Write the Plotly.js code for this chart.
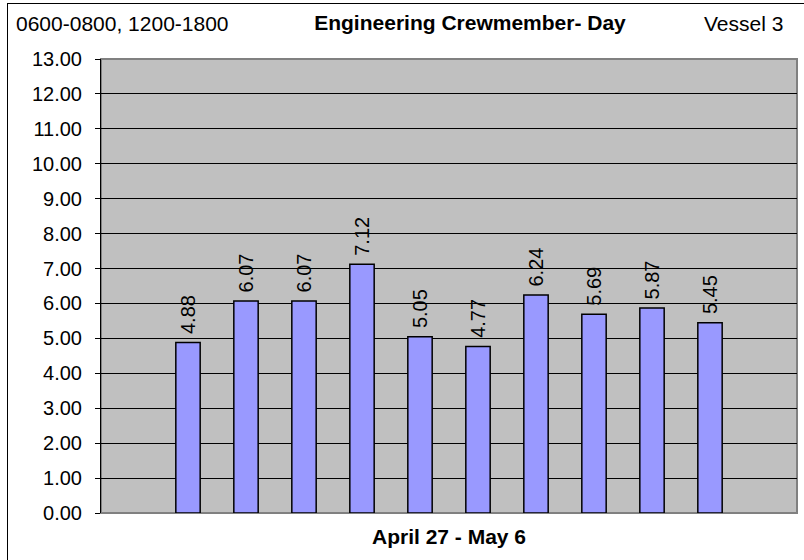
<!DOCTYPE html>
<html>
<head>
<meta charset="utf-8">
<script src="https://cdn.plot.ly/plotly-3.0.1.min.js"></script>
<style>
html,body{margin:0;padding:0;background:#fff;overflow:hidden;}
#wrap{position:relative;width:804px;height:560px;overflow:hidden;}
#frame{position:absolute;left:7px;top:3px;width:820px;height:580px;border:1px solid #000;box-sizing:border-box;pointer-events:none;z-index:5;}
#chart{position:absolute;left:0;top:0;width:804px;height:560px;}
</style>
</head>
<body>
<div id="wrap"><div id="chart"></div><div id="frame"></div></div>
<script>
var days = ["Apr 27","Apr 28","Apr 29","Apr 30","May 1","May 2","May 3","May 4","May 5","May 6"];
var hours = [4.88, 6.07, 6.07, 7.12, 5.05, 4.77, 6.24, 5.69, 5.87, 5.45];
var yTickVals = [0,1,2,3,4,5,6,7,8,9,10,11,12,13];
var titleText = "Engineering Crewmember- Day";
var leftNote = "0600-0800, 1200-1800";
var rightNote = "Vessel 3";
var xTitle = "April 27 - May 6";

var FONT = "Liberation Sans, Arial, sans-serif";

var trace = {
  type: "bar",
  x: days,
  y: hours,
  width: 0.42,
  marker: {color: "#9999ff", line: {color: "#000000", width: 1.5}},
  text: hours.map(function(v){return "\u00a0" + v.toFixed(2);}),
  textposition: "outside",
  textangle: -90,
  constraintext: "none",
  cliponaxis: false,
  textfont: {family: FONT, size: 20, color: "#000"},
  hoverinfo: "x+y"
};

var layout = {
  width: 804, height: 560,
  margin: {l: 101, r: 7, t: 59, b: 47, pad: 0},
  paper_bgcolor: "rgba(0,0,0,0)",
  plot_bgcolor: "#c0c0c0",
  showlegend: false,
  font: {family: FONT, size: 20, color: "#000"},
  title: {
    text: "<b>" + titleText + "</b>",
    font: {family: FONT, size: 21, color: "#000"},
    xref: "container", yref: "container",
    x: 470/804, y: 1 - 23/560,
    xanchor: "center", yanchor: "middle"
  },
  xaxis: {
    type: "category",
    categoryorder: "array",
    categoryarray: days,
    range: [-1.5, 10.5],
    showticklabels: false,
    ticks: "",
    showgrid: false,
    zeroline: false,
    showline: false,
    fixedrange: true,
    title: {text: "<b>" + xTitle + "</b>", font: {family: FONT, size: 21, color: "#000"}, standoff: 16}
  },
  yaxis: {
    range: [0, 13],
    tickvals: yTickVals,
    tickformat: ".2f",
    ticks: "outside",
    ticklen: 5,
    tickcolor: "#000",
    tickwidth: 1,
    showgrid: true,
    gridcolor: "#000",
    gridwidth: 1,
    zeroline: false,
    showline: true,
    linecolor: "#000",
    linewidth: 1,
    ticklabelstandoff: 9,
    tickfont: {family: FONT, size: 20, color: "#000"},
    fixedrange: true
  },
  shapes: [{
    type: "rect", xref: "paper", yref: "paper",
    x0: 0, x1: 1, y0: 0, y1: 1,
    line: {color: "#808080", width: 2},
    layer: "between"
  }],
  annotations: [
    {text: leftNote, xref: "paper", yref: "paper", x: (14-101)/696, y: 1 + (59-23)/454,
     xanchor: "left", yanchor: "middle", showarrow: false,
     font: {family: FONT, size: 21, color: "#000"}},
    {text: rightNote, xref: "paper", yref: "paper", x: (785-101)/696, y: 1 + (59-23)/454,
     xanchor: "right", yanchor: "middle", showarrow: false,
     font: {family: FONT, size: 21, color: "#000"}}
  ]
};

Plotly.newPlot("chart", [trace], layout, {displayModeBar: false, staticPlot: true});
</script>
</body>
</html>
